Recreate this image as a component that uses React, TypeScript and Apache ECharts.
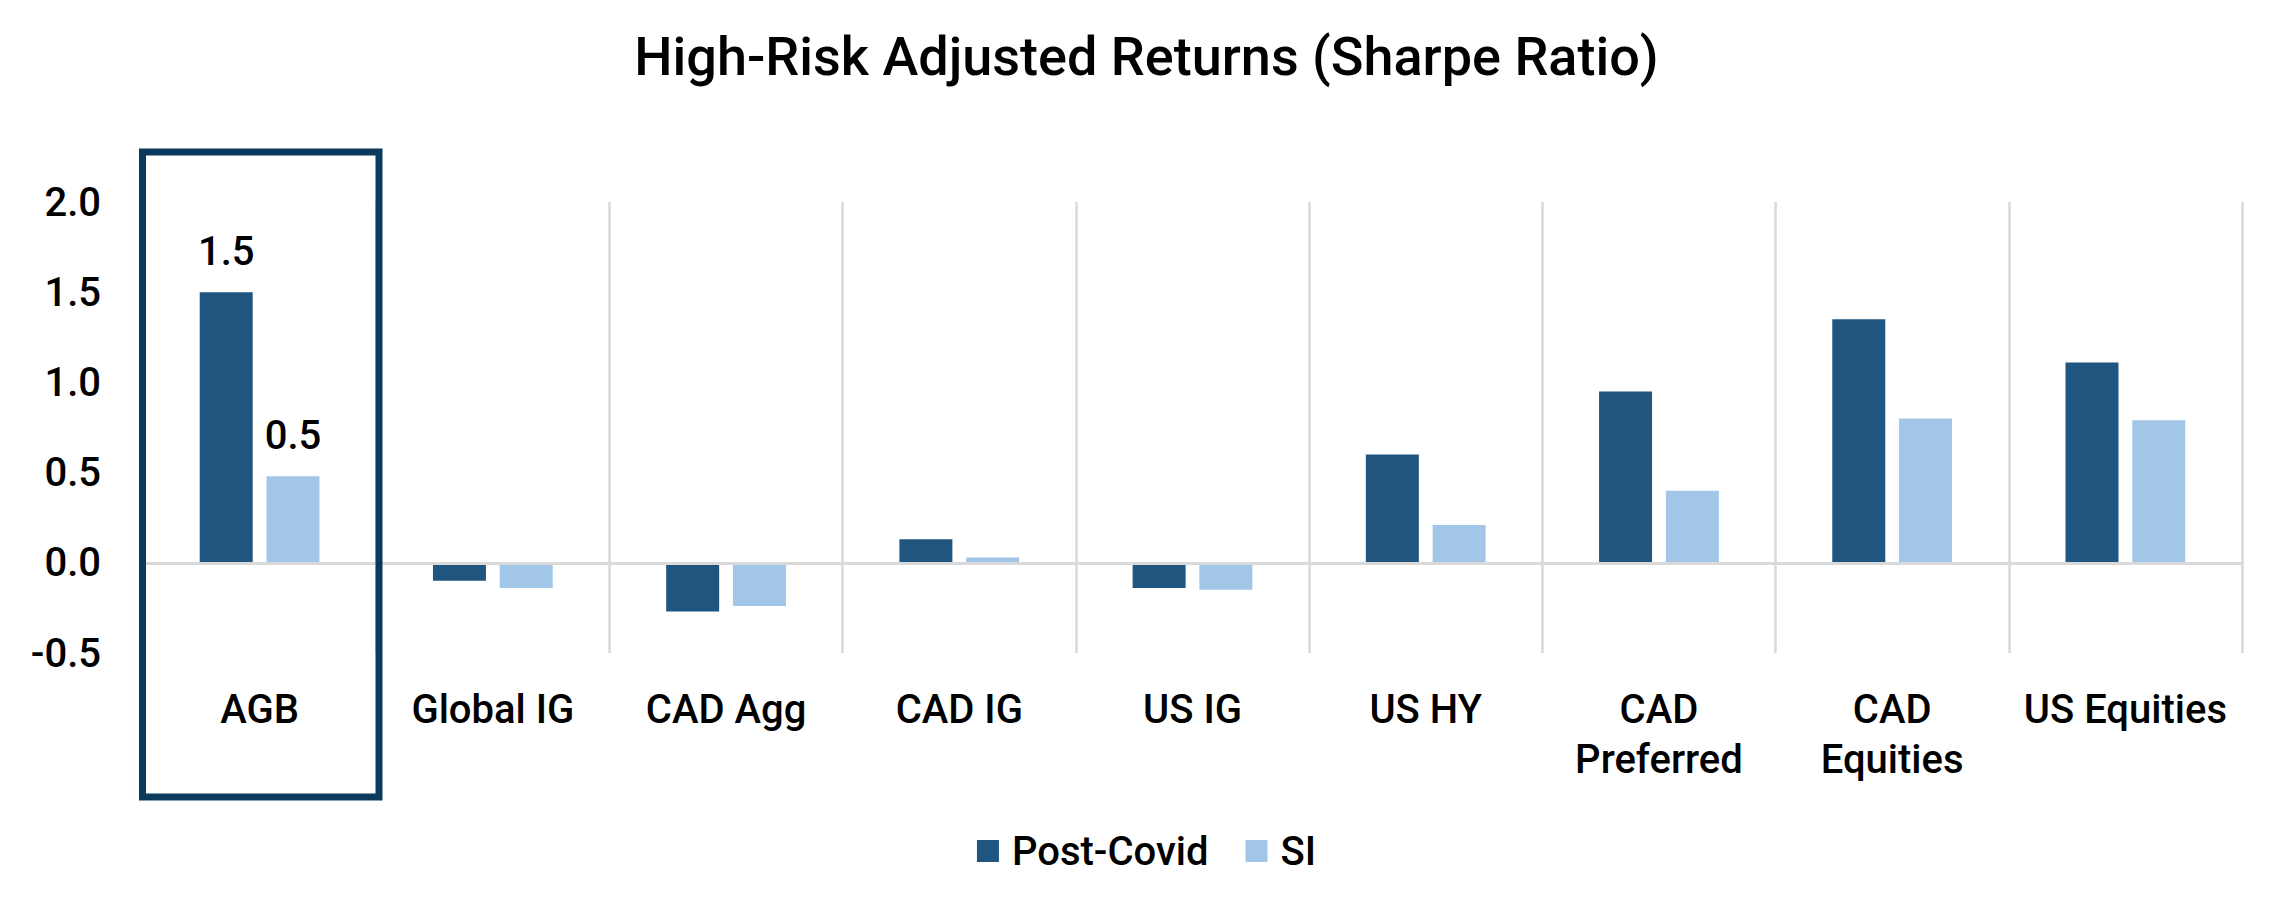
import React, { useEffect, useRef } from "react";
import * as echarts from "echarts";

const categories = [
  "AGB",
  "Global IG",
  "CAD Agg",
  "CAD IG",
  "US IG",
  "US HY",
  "CAD\nPreferred",
  "CAD\nEquities",
  "US Equities",
];
const postCovid = [1.5, -0.1, -0.27, 0.13, -0.14, 0.6, 0.95, 1.35, 1.11];
const si = [0.48, -0.14, -0.24, 0.03, -0.15, 0.21, 0.4, 0.8, 0.79];
const seriesNames = ["Post-Covid", "SI"];
const labelledIndex = 0;

const FONT = "Roboto";
const DARK = "#20557f";
const LIGHT = "#a1c6e7";
const FS = 40;

export default function App() {
  const ref = useRef<HTMLDivElement>(null);
  useEffect(() => {
    document.body.style.margin = "0";
    const chart = echarts.init(ref.current!, null, { renderer: "svg" });
    const mk = (vals: number[]) =>
      vals.map((v, i) =>
        i === labelledIndex
          ? {
              value: v,
              label: {
                show: true,
                position: "top",
                distance: 21,
                formatter: (p: any) => Number(p.value).toFixed(1),
                fontFamily: FONT,
                fontSize: FS,
                fontWeight: 500,
                color: "#000",
              },
            }
          : v
      );
    chart.setOption({
      animation: false,
      textStyle: { fontFamily: FONT },
      title: {
        text: "High-Risk Adjusted Returns (Sharpe Ratio)",
        left: "center",
        top: 24,
        textStyle: { fontFamily: FONT, fontSize: 54, fontWeight: 500, color: "#000" },
      },
      legend: {
        data: seriesNames,
        bottom: 40,
        left: "center",
        icon: "rect",
        itemWidth: 22,
        itemHeight: 22,
        itemGap: 37,
        textStyle: {
          fontFamily: FONT,
          fontSize: FS,
          fontWeight: 500,
          color: "#000",
          padding: [0, 0, 0, 8],
        },
      },
      grid: { left: 143, right: 51, top: 202, bottom: 263, containLabel: false },
      xAxis: {
        type: "category",
        data: categories,
        axisLine: { show: false, onZero: false },
        axisTick: { show: false },
        splitLine: { show: true, lineStyle: { color: "#d9d9d9", width: 2.5 } },
        axisLabel: {
          interval: 0,
          margin: 31,
          fontFamily: FONT,
          fontSize: FS,
          fontWeight: 500,
          color: "#000",
          lineHeight: 50,
        },
      },
      yAxis: {
        type: "value",
        min: -0.5,
        max: 2.0,
        interval: 0.5,
        axisLine: { show: false },
        axisTick: { show: false },
        splitLine: { show: false },
        axisLabel: {
          margin: 42,
          fontFamily: FONT,
          fontSize: FS,
          fontWeight: 500,
          color: "#000",
          formatter: (v: number) => v.toFixed(1),
        },
      },
      series: [
        {
          name: seriesNames[0],
          type: "bar",
          data: mk(postCovid),
          barWidth: 53,
          barGap: "26%",
          itemStyle: { color: DARK },
          markLine: {
            silent: true,
            symbol: "none",
            label: { show: false },
            lineStyle: { color: "#d9d9d9", width: 3, type: "solid" },
            data: [{ yAxis: 0 }],
          },
        },
        {
          name: seriesNames[1],
          type: "bar",
          data: mk(si),
          barWidth: 53,
          itemStyle: { color: LIGHT },
        },
      ],
      graphic: [
        {
          type: "rect",
          shape: { x: 142.5, y: 152, width: 236.5, height: 645 },
          style: { fill: "none", stroke: "#0b3a5c", lineWidth: 7 },
          z: 100,
        },
      ],
    });
    return () => chart.dispose();
  }, []);
  return <div ref={ref} style={{ width: 2293, height: 916 }} />;
}
